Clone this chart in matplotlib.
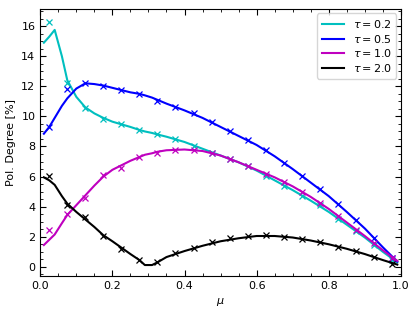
import numpy as np
from matplotlib import pyplot as plt
from matplotlib.ticker import MultipleLocator

# sampled points (crosses)
mu_pts = [0.025, 0.075, 0.125, 0.175, 0.225, 0.275, 0.325, 0.375, 0.425, 0.475,
          0.525, 0.575, 0.625, 0.675, 0.725, 0.775, 0.825, 0.875, 0.925, 0.975]
pts_02 = [16.25, 12.2, 10.55, 9.8, 9.5, 9.1, 8.8, 8.5, 8.0, 7.6,
          7.17, 6.68, 6.05, 5.4, 4.72, 4.1, 3.17, 2.4, 1.45, 0.45]
pts_05 = [9.3, 11.8, 12.2, 12.0, 11.75, 11.5, 11.0, 10.6, 10.2, 9.6,
          9.0, 8.4, 7.8, 6.9, 6.05, 5.17, 4.17, 3.12, 1.95, 0.6]
pts_10 = [2.43, 3.5, 4.55, 6.1, 6.6, 7.28, 7.6, 7.78, 7.78, 7.57,
          7.17, 6.68, 6.2, 5.65, 5.0, 4.23, 3.35, 2.45, 1.57, 0.6]
pts_20 = [6.05, 4.12, 3.32, 2.05, 1.17, 0.45, 0.32, 0.9, 1.23, 1.63,
          1.9, 2.05, 2.1, 1.97, 1.85, 1.65, 1.35, 1.05, 0.65, 0.2]

# model curves (lines)
mu_line = [0.01, 0.025, 0.04, 0.06, 0.075, 0.1, 0.125, 0.15, 0.175, 0.2,
           0.25, 0.275, 0.29, 0.31, 0.325, 0.35, 0.4, 0.45, 0.5, 0.55,
           0.6, 0.65, 0.7, 0.75, 0.8, 0.85, 0.9, 0.95, 0.99]
line_02 = [14.9, 15.3, 15.75, 14.0, 12.4, 11.3, 10.6, 10.2, 9.9, 9.65,
           9.3, 9.1, 9.0, 8.9, 8.8, 8.65, 8.3, 7.85, 7.4, 6.95,
           6.4, 5.75, 5.1, 4.4, 3.65, 2.8, 1.95, 1.0, 0.3]
line_05 = [8.85, 9.3, 9.9, 10.7, 11.2, 11.85, 12.2, 12.15, 12.05, 11.9,
           11.6, 11.5, 11.4, 11.25, 11.1, 10.85, 10.4, 9.9, 9.3, 8.7,
           8.1, 7.35, 6.5, 5.6, 4.7, 3.65, 2.55, 1.3, 0.35]
line_10 = [1.45, 1.8, 2.15, 2.9, 3.45, 4.1, 4.75, 5.4, 6.0, 6.45,
           7.05, 7.3, 7.45, 7.55, 7.65, 7.75, 7.8, 7.7, 7.4, 6.95,
           6.45, 5.95, 5.35, 4.65, 3.85, 2.95, 2.05, 1.1, 0.4]
line_20 = [5.95, 5.75, 5.45, 4.7, 4.2, 3.65, 3.15, 2.65, 2.1, 1.7,
           0.85, 0.45, 0.12, 0.12, 0.3, 0.65, 1.05, 1.4, 1.7, 1.9,
           2.05, 2.05, 1.95, 1.75, 1.5, 1.2, 0.85, 0.45, 0.15]

series = [
    ("0.2", "c", pts_02, line_02),
    ("0.5", "b", pts_05, line_05),
    ("1.0", "m", pts_10, line_10),
    ("2.0", "k", pts_20, line_20),
]

fig = plt.figure(figsize=(4.15, 3.16), dpi=100)
ax = fig.add_axes([0.097, 0.127, 0.869, 0.845])

for tau, col, pts, line in series:
    ax.plot(mu_line, line, color=col, lw=1.5, label=rf"$\tau = {tau}$")
    ax.plot(mu_pts, pts, "x", color=col, ms=5, mew=0.9)

ax.set_xlim(0, 1)
ax.set_ylim(-0.6, 17.15)
ax.xaxis.set_major_locator(MultipleLocator(0.2))
ax.xaxis.set_minor_locator(MultipleLocator(0.05))
ax.yaxis.set_major_locator(MultipleLocator(2))
ax.yaxis.set_minor_locator(MultipleLocator(0.5))
ax.tick_params(which="both", direction="in", top=True, right=True, labelsize=8)
ax.tick_params(which="major", length=4)
ax.tick_params(which="minor", length=2)
ax.set_xlabel(r"$\mu$", fontsize=8)
ax.set_ylabel("Pol. Degree [%]", fontsize=8)
ax.legend(loc="upper right", fontsize=8, labelspacing=0.25, borderaxespad=0.4)

plt.savefig("out.png", dpi=100)
